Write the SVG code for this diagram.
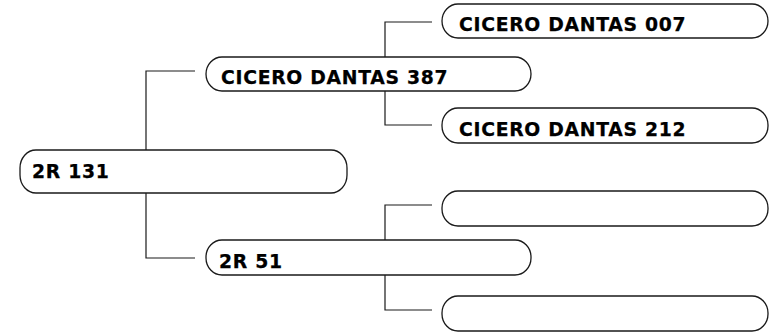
<svg xmlns="http://www.w3.org/2000/svg" width="775" height="335" viewBox="0 0 775 335">
  <style>
    .pill { fill: #ffffff; stroke: #1a1a1a; stroke-width: 1.3; }
    .conn { fill: none; stroke: #1a1a1a; stroke-width: 1.2; }
    .lbl { font-family: "DejaVu Sans", Verdana, sans-serif; font-weight: bold; font-size: 18.8px; letter-spacing: 0.7px; fill: #000000; stroke: #000000; stroke-width: 0.25; }
  </style>
  <rect width="775" height="335" fill="#ffffff"/>
  <g id="connectors">
    <polyline class="conn" points="195,71 146,71 146,150"/>
    <polyline class="conn" points="146,193 146,258 195,258"/>
    <polyline class="conn" points="432,22 385,22 385,57"/>
    <polyline class="conn" points="385,91 385,125 432,125"/>
    <polyline class="conn" points="432,205 385,205 385,240"/>
    <polyline class="conn" points="385,275 385,310 432,310"/>
  </g>
  <g id="node-2r131">
    <rect class="pill" x="20" y="150" width="327" height="43" rx="16" ry="18"/>
    <text class="lbl" x="32" y="178">2R 131</text>
  </g>
  <g id="node-cd387">
    <rect class="pill" x="206" y="57" width="325" height="34" rx="16" ry="17"/>
    <text class="lbl" x="221" y="84">CICERO DANTAS 387</text>
  </g>
  <g id="node-2r51">
    <rect class="pill" x="206" y="240" width="325" height="35" rx="16" ry="17"/>
    <text class="lbl" x="219" y="268">2R 51</text>
  </g>
  <g id="node-cd007">
    <rect class="pill" x="442" y="4" width="326" height="34" rx="16" ry="17"/>
    <text class="lbl" x="459" y="31">CICERO DANTAS 007</text>
  </g>
  <g id="node-cd212">
    <rect class="pill" x="442" y="108" width="326" height="35" rx="16" ry="17"/>
    <text class="lbl" x="459" y="136">CICERO DANTAS 212</text>
  </g>
  <g id="node-blank1">
    <rect class="pill" x="442" y="191" width="326" height="35" rx="16" ry="17"/>
  </g>
  <g id="node-blank2">
    <rect class="pill" x="442" y="296" width="326" height="35" rx="16" ry="17"/>
  </g>
</svg>
